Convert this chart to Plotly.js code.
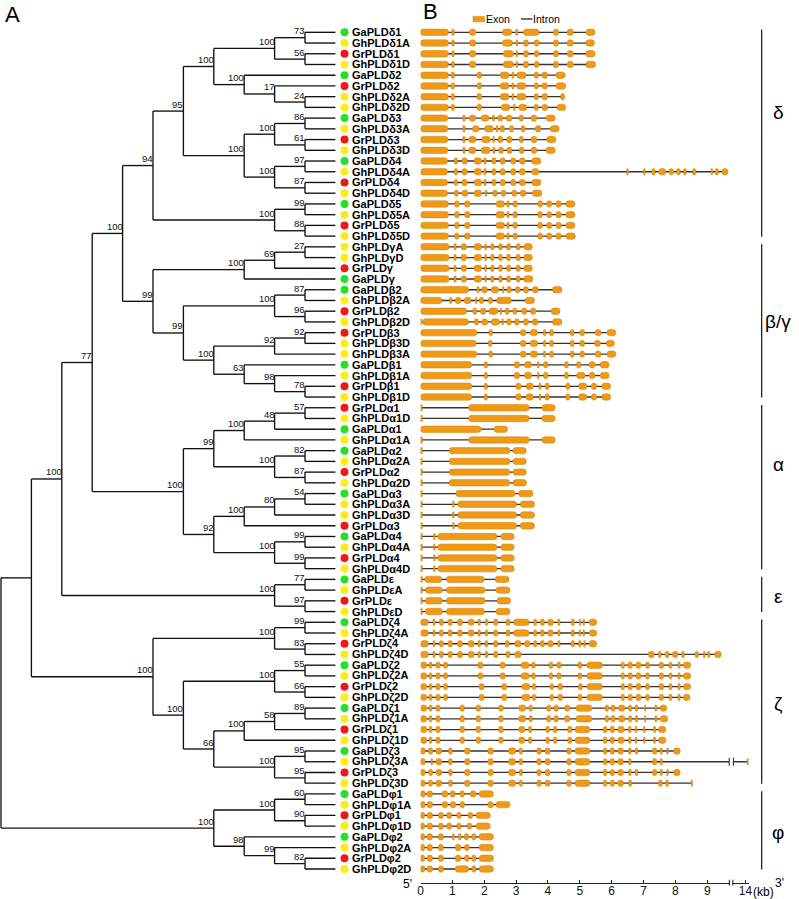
<!DOCTYPE html>
<html><head><meta charset="utf-8">
<script src="https://cdn.plot.ly/plotly-3.0.1.min.js"></script>
<style>html,body{margin:0;padding:0;background:#fff}#chart{width:799px;height:899px}</style>
</head><body><div id="chart"></div>
<script>
// ================= DATA =================
// Phylogeny (Newick pieces, bootstrap values as node labels)
const cladeDelta12 = "(((GaPLDδ1,GhPLDδ1A)73,(GrPLDδ1,GhPLDδ1D)56)100,(GaPLDδ2,(GrPLDδ2,(GhPLDδ2A,GhPLDδ2D)24)17)100)100";
const cladeDelta34 = "(((GaPLDδ3,GhPLDδ3A)86,(GrPLDδ3,GhPLDδ3D)61)100,((GaPLDδ4,GhPLDδ4A)97,(GrPLDδ4,GhPLDδ4D)87)100)100";
const cladeDelta5 = "((GaPLDδ5,GhPLDδ5A)99,(GrPLDδ5,GhPLDδ5D)88)100";
const cladeGamma = "(((GhPLDγA,GhPLDγD)27,GrPLDγ)69,GaPLDγ)100";
const cladeBeta = "(((GaPLDβ2,GhPLDβ2A)87,(GrPLDβ2,GhPLDβ2D)96)100,(((GrPLDβ3,GhPLDβ3D)92,GhPLDβ3A)92,(GaPLDβ1,(GhPLDβ1A,(GrPLDβ1,GhPLDβ1D)78)98)63)100)99";
const cladeAlpha = "(((((GrPLDα1,GhPLDα1D)57,GaPLDα1)48,GhPLDα1A)100,((GaPLDα2,GhPLDα2A)82,(GrPLDα2,GhPLDα2D)87)100)99,((((GaPLDα3,GhPLDα3A)54,GhPLDα3D)80,GrPLDα3)100,((GaPLDα4,GhPLDα4A)99,(GrPLDα4,GhPLDα4D)99)100)92)100";
const cladeEpsilon = "((GaPLDε,GhPLDεA)77,(GrPLDε,GhPLDεD)97)100";
const cladeZeta = "(((GaPLDζ4,GhPLDζ4A)99,(GrPLDζ4,GhPLDζ4D)83)100,(((GaPLDζ2,GhPLDζ2A)55,(GrPLDζ2,GhPLDζ2D)66)100,((((GaPLDζ1,GhPLDζ1A)89,GrPLDζ1)58,GhPLDζ1D)100,((GaPLDζ3,GhPLDζ3A)95,(GrPLDζ3,GhPLDζ3D)95)100)66)100)100";
const cladePhi = "(((GaPLDφ1,GhPLDφ1A)60,(GrPLDφ1,GhPLDφ1D)90)100,(GaPLDφ2,(GhPLDφ2A,(GrPLDφ2,GhPLDφ2D)82)99)98)100";
const treeNewick = "(((((((" + cladeDelta12 + "," + cladeDelta34 + ")95," + cladeDelta5 + ")94,(" + cladeGamma + "," + cladeBeta + ")99)100," + cladeAlpha + ")77," + cladeEpsilon + ")100," + cladeZeta + ")," + cladePhi + ");";

// Exon coordinates (kb): [start,end, start,end, ...] in tree leaf order
const exonsDelta = [
 [0,0.88, 0.98,1.06, 1.53,1.74, 2.57,2.87, 2.99,3.05, 3.23,3.72, 4.17,4.33, 4.6,4.8, 5.19,5.48],
 [0,0.88, 0.98,1.06, 1.53,1.74, 2.57,2.89, 3.0,3.05, 3.23,3.39, 3.57,3.72, 4.17,4.33, 4.6,4.8, 5.19,5.46],
 [0,0.88, 0.98,1.06, 1.53,1.74, 2.6,2.92, 3.0,3.05, 3.23,3.39, 3.57,3.72, 4.17,4.33, 4.6,4.8, 5.19,5.48],
 [0,0.88, 0.98,1.06, 1.53,1.74, 2.6,2.92, 3.0,3.05, 3.23,3.39, 3.57,3.72, 4.17,4.33, 4.6,4.8, 5.19,5.5],
 [0,0.88, 0.96,1.07, 1.77,1.92, 2.5,2.78, 2.87,2.93, 3.02,3.31, 3.57,3.7, 3.81,3.99, 4.25,4.54],
 [0,0.88, 0.96,1.07, 1.77,1.92, 2.5,2.78, 2.87,2.93, 3.02,3.31, 3.57,3.7, 3.81,3.99, 4.25,4.56],
 [0,0.88, 0.96,1.07, 1.77,1.92, 2.5,2.78, 2.87,2.93, 3.02,3.31, 3.57,3.7, 3.81,3.99, 4.4,4.52],
 [0,0.88, 0.96,1.07, 1.77,1.92, 2.53,2.81, 2.92,2.97, 3.08,3.34, 3.57,3.7, 3.81,3.99, 4.28,4.56],
 [0,0.86, 1.33,1.4, 1.53,1.74, 1.9,2.15, 2.26,2.32, 2.43,2.58, 2.69,2.87, 3.1,3.23, 3.47,3.65, 3.94,4.23],
 [0,0.86, 1.33,1.4, 1.63,1.84, 2.01,2.29, 2.37,2.43, 2.5,2.64, 2.79,2.93, 3.16,3.28, 3.6,3.78, 4.07,4.35],
 [0,0.86, 1.33,1.4, 1.51,1.74, 1.92,2.19, 2.27,2.32, 2.43,2.58, 2.71,2.87, 3.1,3.23, 3.47,3.65, 3.96,4.25],
 [0,0.86, 1.33,1.4, 1.51,1.74, 1.9,2.19, 2.27,2.34, 2.45,2.6, 2.71,2.87, 3.1,3.25, 3.47,3.65, 3.94,4.23],
 [0,0.85, 1.06,1.16, 1.3,1.47, 1.68,1.92, 1.99,2.06, 2.24,2.37, 2.5,2.66, 2.83,2.99, 3.1,3.29, 3.49,3.78],
 [0,0.85, 1.06,1.16, 1.3,1.47, 1.68,1.92, 1.99,2.06, 2.24,2.37, 2.5,2.66, 2.83,2.99, 3.1,3.29, 3.49,3.72, 6.47,6.52, 7.0,7.05, 7.26,7.36, 7.47,7.7, 7.8,7.94, 8.04,8.15, 8.26,8.34, 8.54,8.64, 9.12,9.17, 9.25,9.35, 9.46,9.65],
 [0,0.85, 1.06,1.16, 1.3,1.47, 1.68,1.92, 1.99,2.06, 2.24,2.37, 2.5,2.66, 2.83,2.99, 3.1,3.29, 3.49,3.78],
 [0,0.85, 1.06,1.19, 1.3,1.49, 1.68,1.92, 2.03,2.08, 2.27,2.41, 2.53,2.68, 2.87,3.02, 3.13,3.31, 3.51,3.81],
 [0,0.88, 1.07,1.21, 1.38,1.56, 2.37,2.64, 2.71,2.78, 2.9,3.04, 3.68,3.83, 3.96,4.12, 4.25,4.42, 4.56,4.85],
 [0,0.88, 1.07,1.21, 1.38,1.56, 2.37,2.64, 2.71,2.78, 2.9,3.04, 3.68,3.83, 3.96,4.12, 4.25,4.42, 4.56,4.85],
 [0,0.88, 1.07,1.21, 1.38,1.56, 2.37,2.64, 2.71,2.78, 2.9,3.04, 3.68,3.83, 3.96,4.12, 4.25,4.42, 4.56,4.85],
 [0,0.88, 1.07,1.21, 1.38,1.56, 2.37,2.64, 2.71,2.78, 2.9,3.04, 3.68,3.83, 3.96,4.12, 4.25,4.42, 4.56,4.86]
];
const exonsGammaBeta = [
 [0,0.9, 1.05,1.12, 1.27,1.45, 1.68,1.92, 2.02,2.07, 2.2,2.31, 2.45,2.57, 2.7,2.83, 3.0,3.13, 3.24,3.51],
 [0,0.9, 1.05,1.12, 1.27,1.45, 1.68,1.92, 2.02,2.07, 2.2,2.31, 2.45,2.57, 2.7,2.83, 3.0,3.13, 3.24,3.51],
 [0,0.9, 1.05,1.12, 1.27,1.45, 1.68,1.92, 2.02,2.07, 2.2,2.31, 2.45,2.57, 2.7,2.83, 3.0,3.13, 3.24,3.51],
 [0,0.9, 1.05,1.12, 1.27,1.45, 1.68,1.92, 2.02,2.07, 2.2,2.31, 2.45,2.57, 2.7,2.83, 3.0,3.13, 3.24,3.53],
 [0,1.51, 1.77,1.84, 1.92,2.1, 2.22,2.45, 2.57,2.62, 2.71,2.85, 2.97,3.12, 3.23,3.39, 3.51,3.7, 4.14,4.44],
 [0,0.67, 0.91,0.98, 1.09,1.27, 1.37,1.59, 1.72,1.77, 1.85,1.98, 2.13,2.26, 2.39,2.85, 3.28,3.58],
 [0,1.45, 1.64,1.77, 1.88,2.05, 2.15,2.43, 2.5,2.55, 2.66,2.78, 2.9,3.02, 3.18,3.34, 3.45,3.62, 4.1,4.38],
 [0,0.04, 0.07,1.51, 1.69,1.82, 1.92,2.11, 2.22,2.48, 2.55,2.6, 2.71,2.85, 2.95,3.1, 3.23,3.39, 3.51,3.68, 4.14,4.44],
 [0,1.77, 2.15,2.26, 3.13,3.32, 3.44,3.68, 3.86,3.93, 4.05,4.18, 4.7,4.82, 5.0,5.15, 5.48,5.67, 5.85,6.13],
 [0,1.75, 2.13,2.24, 3.13,3.31, 3.44,3.68, 3.86,3.93, 4.05,4.17, 4.7,4.82, 5.0,5.15, 5.46,5.65, 5.83,6.09],
 [0,1.77, 2.15,2.26, 3.13,3.32, 3.44,3.68, 3.86,3.93, 4.05,4.18, 4.7,4.82, 5.0,5.15, 5.48,5.67, 5.85,6.13],
 [0,1.61, 2.0,2.1, 2.94,3.11, 3.26,3.49, 3.67,3.72, 3.86,4.0, 4.52,4.64, 4.9,5.03, 5.29,5.48, 5.64,5.92],
 [0,1.61, 2.0,2.1, 2.94,3.11, 3.26,3.49, 3.67,3.72, 3.86,4.0, 4.52,4.64, 4.9,5.17, 5.29,5.48, 5.64,5.92],
 [0,1.61, 2.0,2.1, 2.99,3.16, 3.31,3.54, 3.72,3.78, 3.91,4.04, 4.56,4.69, 4.96,5.22, 5.36,5.53, 5.69,5.97],
 [0,1.61, 2.0,2.1, 2.99,3.16, 3.31,3.54, 3.72,3.78, 3.91,4.04, 4.56,4.69, 4.96,5.22, 5.36,5.53, 5.69,5.97]
];
const exonsAlpha = [
 [0,0.06, 1.51,3.41, 3.81,4.23],
 [0,0.06, 1.51,3.41, 3.81,4.23],
 [0,1.9, 2.31,2.73],
 [0,0.06, 1.51,3.41, 3.81,4.23],
 [0,0.06, 0.9,2.81, 2.9,3.32],
 [0,0.06, 0.9,2.81, 2.9,3.32],
 [0,0.06, 0.9,2.81, 2.9,3.32],
 [0,0.06, 0.9,2.81, 2.9,3.33],
 [0,0.06, 1.11,2.97, 3.08,3.53],
 [0,0.06, 1.0,1.06, 1.17,3.02, 3.13,3.58],
 [0,0.06, 1.0,1.06, 1.17,3.02, 3.13,3.58],
 [0,0.06, 1.0,1.06, 1.17,3.02, 3.13,3.58],
 [0,0.06, 0.41,0.46, 0.54,2.4, 2.52,2.94],
 [0,0.06, 0.41,0.46, 0.54,2.4, 2.52,2.94],
 [0,0.06, 0.41,0.46, 0.54,2.4, 2.52,2.94],
 [0,0.06, 0.41,0.46, 0.54,2.4, 2.52,2.94]
];
const exonsEpsilon = [
 [0,0.06, 0.13,0.67, 0.81,2.0, 2.34,2.78],
 [0,0.06, 0.15,0.69, 0.81,2.03, 2.37,2.81],
 [0,0.06, 0.15,0.69, 0.81,2.03, 2.4,2.83],
 [0,0.06, 0.15,0.69, 0.81,2.01, 2.37,2.81]
];
const exonsZeta = [
 [0,0.25, 0.39,0.46, 0.59,0.72, 0.86,1.0, 1.16,1.32, 1.49,1.69, 1.8,1.88, 2.03,2.11, 2.29,2.43, 2.68,2.81, 2.92,3.41, 3.55,3.65, 3.76,3.89, 3.99,4.17, 4.31,4.38, 4.73,4.83, 4.98,5.03, 5.1,5.15, 5.29,5.53],
 [0,0.25, 0.39,0.46, 0.59,0.72, 0.86,1.0, 1.16,1.32, 1.49,1.69, 1.8,1.88, 2.03,2.11, 2.29,2.43, 2.68,2.81, 2.92,3.41, 3.55,3.65, 3.76,3.89, 3.99,4.17, 4.31,4.38, 4.73,4.83, 4.98,5.03, 5.1,5.15, 5.29,5.53],
 [0,0.25, 0.39,0.46, 0.59,0.72, 0.86,1.0, 1.16,1.32, 1.49,1.69, 1.8,1.88, 2.03,2.11, 2.29,2.43, 2.66,2.78, 2.95,3.16, 3.26,3.44, 3.55,3.65, 3.76,3.89, 3.99,4.17, 4.31,4.38, 4.73,4.83, 4.96,5.04, 5.12,5.17, 5.29,5.53],
 [0,0.25, 0.39,0.46, 0.59,0.72, 0.86,1.0, 1.16,1.32, 1.49,1.69, 1.8,1.88, 2.03,2.11, 2.29,2.43, 2.68,2.81, 2.95,3.16, 7.15,7.34, 7.47,7.55, 7.68,7.8, 7.91,8.08, 8.2,8.28, 8.62,8.72, 8.88,8.93, 9.02,9.08, 9.23,9.44],
 [0,0.2, 0.27,0.36, 0.48,0.62, 0.72,0.85, 1.8,1.96, 2.5,2.66, 3.16,3.41, 3.49,3.6, 4.04,4.15, 4.28,4.41, 4.94,5.06, 5.22,5.71, 6.3,6.4, 6.51,6.65, 6.76,6.92, 7.07,7.18, 7.49,7.63, 7.8,7.89, 8.08,8.15, 8.25,8.48],
 [0,0.2, 0.27,0.36, 0.48,0.62, 0.72,0.85, 1.8,1.96, 2.5,2.66, 3.16,3.41, 3.49,3.6, 4.04,4.15, 4.28,4.41, 4.94,5.06, 5.22,5.71, 6.3,6.4, 6.51,6.65, 6.76,6.92, 7.07,7.18, 7.49,7.63, 7.8,7.89, 8.08,8.15, 8.25,8.48],
 [0,0.2, 0.27,0.36, 0.48,0.62, 0.72,0.85, 1.84,2.0, 2.55,2.71, 3.18,3.44, 3.51,3.62, 4.07,4.17, 4.31,4.46, 4.96,5.08, 5.22,5.71, 6.3,6.4, 6.51,6.65, 6.76,6.92, 7.07,7.18, 7.49,7.63, 7.8,7.89, 8.08,8.15, 8.25,8.48],
 [0,0.2, 0.27,0.36, 0.48,0.62, 0.72,0.85, 1.84,2.0, 2.55,2.71, 3.18,3.44, 3.51,3.62, 4.07,4.17, 4.31,4.46, 4.94,5.06, 5.22,5.71, 6.3,6.4, 6.51,6.65, 6.76,6.92, 7.07,7.18, 7.49,7.63, 7.8,7.89, 8.08,8.15, 8.25,8.46],
 [0,0.2, 0.27,0.36, 0.48,0.62, 1.24,1.38, 1.74,1.89, 2.45,2.6, 3.08,3.31, 3.41,3.51, 3.96,4.09, 4.19,4.33, 4.52,4.69, 4.88,5.38, 5.8,5.9, 5.98,6.11, 6.21,6.42, 6.53,6.63, 6.74,6.82, 7.03,7.07, 7.36,7.42, 7.52,7.73],
 [0,0.2, 0.27,0.36, 0.48,0.62, 1.24,1.38, 1.74,1.89, 2.45,2.6, 3.08,3.31, 3.41,3.51, 3.96,4.09, 4.19,4.33, 4.52,4.69, 4.88,5.38, 5.8,5.9, 5.98,6.11, 6.21,6.42, 6.53,6.63, 6.74,6.82, 7.03,7.07, 7.36,7.42, 7.52,7.76],
 [0,0.2, 0.27,0.36, 0.48,0.62, 1.24,1.38, 1.74,1.89, 2.45,2.6, 3.08,3.28, 3.39,3.49, 3.93,4.05, 4.17,4.28, 4.62,4.75, 4.85,5.32, 5.74,5.85, 5.95,6.09, 6.19,6.4, 6.53,6.61, 6.74,6.79, 7.0,7.05, 7.31,7.38, 7.47,7.7],
 [0,0.2, 0.27,0.36, 0.48,0.62, 1.24,1.38, 1.74,1.89, 2.45,2.6, 3.08,3.28, 3.39,3.49, 3.93,4.05, 4.17,4.28, 4.62,4.75, 4.85,5.32, 5.74,5.85, 5.95,6.09, 6.19,6.4, 6.53,6.61, 6.74,6.79, 7.0,7.05, 7.31,7.38, 7.47,7.7],
 [0,0.15, 0.25,0.38, 0.48,0.67, 0.88,1.0, 1.38,1.56, 2.11,2.29, 2.76,2.99, 3.1,3.2, 3.65,3.79, 3.91,4.07, 4.59,4.73, 4.85,5.32, 5.74,5.85, 5.95,6.09, 6.19,6.37, 6.53,6.61, 6.74,6.82, 7.28,7.42, 7.52,7.59, 7.73,7.78, 7.94,8.15],
 [0,0.15, 0.33,0.38, 0.48,0.67, 0.88,1.0, 1.38,1.56, 2.11,2.29, 2.76,2.99, 3.1,3.2, 3.65,3.79, 3.91,4.07, 4.59,4.73, 4.85,5.32, 5.74,5.85, 5.95,6.09, 6.19,6.37, 6.53,6.61, 7.28,7.42, 7.52,7.59, 14.06,14.1],
 [0,0.15, 0.25,0.38, 0.48,0.67, 0.88,1.0, 1.38,1.56, 2.11,2.29, 2.76,2.99, 3.1,3.2, 3.65,3.79, 3.91,4.07, 4.59,4.73, 4.85,5.32, 5.74,5.85, 5.95,6.09, 6.19,6.37, 6.53,6.61, 6.74,6.82, 7.28,7.42, 7.52,7.59, 7.73,7.78, 7.94,8.15],
 [0,0.15, 0.25,0.38, 0.48,0.67, 0.88,1.0, 1.38,1.56, 2.11,2.29, 2.76,2.99, 3.1,3.2, 3.65,3.79, 3.91,4.07, 4.59,4.73, 4.85,5.32, 5.74,5.85, 5.95,6.09, 6.19,6.37, 6.53,6.63, 7.47,7.59, 7.7,7.78, 8.49,8.54]
];
const exonsPhi = [
 [0,0.15, 0.2,0.38, 0.67,0.86, 0.93,1.09, 1.24,1.38, 1.56,1.74, 1.84,2.29],
 [0,0.15, 0.2,0.38, 0.67,0.86, 0.93,1.11, 1.24,1.38, 2.11,2.29, 2.37,2.81],
 [0,0.13, 0.2,0.38, 0.56,0.72, 0.82,0.98, 1.14,1.27, 1.49,1.64, 1.74,2.19],
 [0,0.13, 0.2,0.38, 0.56,0.72, 0.82,0.98, 1.14,1.27, 1.46,1.61, 1.74,2.19],
 [0,0.13, 0.2,0.38, 0.56,0.72, 1.0,1.06, 1.19,1.27, 1.38,1.51, 1.61,1.74, 1.84,2.29],
 [0,0.13, 0.2,0.38, 0.56,0.72, 1.09,1.27, 1.38,1.53, 1.84,2.29],
 [0,0.13, 0.2,0.38, 0.56,0.72, 1.09,1.27, 1.38,1.53, 1.61,1.74, 1.84,2.29],
 [0,0.13, 0.2,0.38, 0.56,0.72, 1.09,1.51, 1.61,1.74, 1.84,2.29]
];

// Scale tick labels (kb)
const kbTicks = [0,1,2,3,4,5,6,7,8,9,14];
const kbTickText = ['0','1','2','3','4','5','6','7','8','9','14'];

// Subfamily groups
const groupNames = ['δ','β/γ','α','ε','ζ','φ'];
const groupFirstGene = ['GaPLDδ1','GhPLDγA','GrPLDα1','GaPLDε','GaPLDζ4','GaPLDφ1'];
const groupLastGene = ['GhPLDδ5D','GhPLDβ1D','GhPLDα4D','GhPLDεD','GhPLDζ3D','GhPLDφ2D'];

// ================= LAYOUT CONSTANTS =================
const W = 799, H = 899;
const FONT = 'Liberation Sans, Arial, sans-serif';
const ROW0_PX = 32.3, ROW_STEP = 10.727, AXIS_PX = 882.7;
const TREE_X0 = 1, TREE_STEP = 30.4;
const GENE_X0 = 420.5, GENE_END_PX = 749.3, KB_PX = 31.86;
const BREAK_FROM = 9.69, BREAK_TO = 13.58, AT14 = 10.2, AFTER_SCALE = 0.9;
const groupLabelRow = [7.5, 27, 40.3, 52.6, 62.6, 74.6];
const speciesColor = {Ga:'#25e125', Gh:'#fded17', Gr:'#ef1717'};
const EXON = '#EF9A17', EXON_LINE = '#D7830B';

const kbToAxis = kb => kb <= BREAK_FROM ? kb : AT14 + (kb - 14) * AFTER_SCALE;
const px = p => p / W, py = p => 1 - p / H;

// ================= TREE =================
function parseNewick(s){
  let i = 0;
  function node(){
    const n = {children: []};
    if (s[i] === '('){
      i++;
      n.children.push(node());
      while (s[i] === ','){ i++; n.children.push(node()); }
      i++;
    }
    let t = '';
    while (i < s.length && !',();'.includes(s[i])) t += s[i++];
    if (n.children.length) n.support = t; else n.name = t;
    return n;
  }
  return node();
}
const root = parseNewick(treeNewick);
const leaves = [];
(function walk(n){
  if (!n.children.length){ n.row = leaves.length; leaves.push(n.name); n.h = 0; return; }
  n.children.forEach(walk);
  n.h = 1 + Math.max(...n.children.map(c => c.h));
  n.row = (n.children[0].row + n.children[n.children.length-1].row) / 2;
})(root);
const maxH = root.h;
const lev = n => maxH - n.h;

const treeX = [], treeY = [], annotations = [];
const bsFont = {family: FONT, size: 9.5, color: '#111'};
(function draw(n){
  if (!n.children.length) return;
  const L = lev(n);
  const first = n.children[0], last = n.children[n.children.length-1];
  treeX.push(L, L, null); treeY.push(first.row, last.row, null);
  n.children.forEach(c => { treeX.push(L, lev(c), null); treeY.push(c.row, c.row, null); draw(c); });
  if (n.support) annotations.push({xref:'x', yref:'y', x:L, y:n.row, text:n.support, showarrow:false,
    xanchor:'right', yanchor:'bottom', borderpad:0, borderwidth:0, xshift:0, yshift:1.5, font:bsFont});
})(root);

// leaf labels & species dots
const dotX = [], dotY = [], dotC = [];
leaves.forEach((name, r) => {
  dotX.push(maxH + 0.3); dotY.push(r); dotC.push(speciesColor[name.slice(0,2)]);
  annotations.push({xref:'x', yref:'y', x:maxH + 0.545, y:r, text:name, showarrow:false,
    xanchor:'left', yanchor:'middle', borderpad:0, borderwidth:0,
    font:{family:FONT, size:11, color:'#000', weight:'bold'}});
});

// ================= GENE STRUCTURES =================
const allExons = [].concat(exonsDelta, exonsGammaBeta, exonsAlpha, exonsEpsilon, exonsZeta, exonsPhi);
const barY = [], barBase = [], barLen = [];
const intronX = [], intronY = [], brkX = [], brkY = [];
allExons.forEach((ex, r) => {
  for (let k = 0; k < ex.length; k += 2){
    const a0 = kbToAxis(ex[k]), a1 = kbToAxis(ex[k+1]);
    barY.push(r); barBase.push(a0); barLen.push(a1 - a0);
    if (k + 2 < ex.length){
      const s = ex[k+1], e = ex[k+2];
      if (s < BREAK_FROM && e > BREAK_FROM){
        intronX.push(kbToAxis(s), kbToAxis(BREAK_FROM), null, kbToAxis(BREAK_TO), kbToAxis(e), null);
        intronY.push(r, r, null, r, r, null);
        [BREAK_FROM, BREAK_TO].forEach(b => { brkX.push(kbToAxis(b), kbToAxis(b), null); brkY.push(r-0.38, r+0.38, null); });
      } else {
        intronX.push(kbToAxis(s), kbToAxis(e), null); intronY.push(r, r, null);
      }
    }
  }
});

// ================= TRACES =================
const traces = [
  {type:'bar', orientation:'h', xaxis:'x2', yaxis:'y', y:barY, base:barBase, x:barLen, width:0.6,
   marker:{color:EXON, line:{color:EXON_LINE, width:0.5}, cornerradius:3}, hoverinfo:'skip'},
  {type:'scatter', mode:'lines', xaxis:'x2', yaxis:'y', x:intronX, y:intronY,
   line:{color:'#333', width:1.3}, hoverinfo:'skip'},
  {type:'scatter', mode:'lines', xaxis:'x2', yaxis:'y', x:brkX, y:brkY,
   line:{color:'#333', width:1.1}, hoverinfo:'skip'},
  {type:'scatter', mode:'lines', xaxis:'x', yaxis:'y', x:treeX, y:treeY,
   line:{color:'#111', width:1.35}, hoverinfo:'skip'},
  {type:'scatter', mode:'markers', xaxis:'x', yaxis:'y', x:dotX, y:dotY, cliponaxis:false,
   marker:{color:dotC, size:8, line:{width:0}}, hoverinfo:'skip'}
];

// ================= SHAPES / EXTRA TEXT =================
const shapes = [];
groupNames.forEach((g, i) => {
  const r0 = leaves.indexOf(groupFirstGene[i]), r1 = leaves.indexOf(groupLastGene[i]);
  shapes.push({type:'line', xref:'paper', yref:'y', x0:px(761.7), x1:px(761.7), y0:r0-0.25, y1:r1+0.05,
    line:{color:'#111', width:1.2}});
  annotations.push({xref:'paper', yref:'y', x:px(778), y:groupLabelRow[i], text:g, showarrow:false,
    xanchor:'center', yanchor:'middle', font:{family:FONT, size:19, color:'#000'}});
});
// axis break on the scale bar
shapes.push({type:'rect', xref:'paper', yref:'paper', x0:px(729.6), x1:px(732.6), y0:py(885), y1:py(880.5),
  fillcolor:'#fff', line:{width:0}, layer:'above'});
[729.4, 732.8].forEach(p => shapes.push({type:'line', xref:'paper', yref:'paper', x0:px(p), x1:px(p),
  y0:py(879.8), y1:py(885.6), line:{color:'#222', width:1.1}, layer:'above'}));
// legend
shapes.push({type:'rect', xref:'paper', yref:'paper', x0:px(473), x1:px(484.5), y0:py(21.8), y1:py(16.4),
  fillcolor:EXON, line:{color:EXON_LINE, width:0.5}});
shapes.push({type:'line', xref:'paper', yref:'paper', x0:px(521), x1:px(532.5), y0:py(19), y1:py(19),
  line:{color:'#222', width:1.3}});
const txt = (x, y, t, size, anchor, extra) => Object.assign({xref:'paper', yref:'paper', x:px(x), y:py(y), text:t,
  showarrow:false, xanchor:anchor||'center', yanchor:'middle', borderpad:0, borderwidth:0,
  font:{family:FONT, size:size, color:'#000'}}, extra||{});
annotations.push(txt(12.5, 14, 'A', 22));
annotations.push(txt(430, 11.5, 'B', 22));
annotations.push(txt(486, 19, 'Exon', 10.5, 'left'));
annotations.push(txt(533, 19, 'Intron', 10.5, 'left'));
annotations.push(txt(408, 884, "5'", 12));
annotations.push(txt(752.5, 892, '(kb)', 12, 'left'));
annotations.push(txt(779, 883, "3'", 12));

// ================= LAYOUT =================
const yTop = -ROW0_PX / ROW_STEP, yBot = (AXIS_PX - ROW0_PX) / ROW_STEP;
const layout = {
  width: W, height: H, margin:{l:0, r:0, t:0, b:0, pad:0},
  paper_bgcolor:'#fff', plot_bgcolor:'rgba(0,0,0,0)', showlegend:false, barmode:'overlay',
  font:{family:FONT},
  xaxis:{domain:[0, px(400)], range:[-TREE_X0/TREE_STEP, (400 - TREE_X0)/TREE_STEP], visible:false, fixedrange:true},
  xaxis2:{domain:[px(GENE_X0), px(GENE_END_PX)], range:[0, (GENE_END_PX - GENE_X0)/KB_PX], anchor:'y',
    showgrid:false, zeroline:false, showline:true, linecolor:'#222', linewidth:1.2,
    ticks:'inside', ticklen:3, tickwidth:1, tickcolor:'#222', ticklabelstandoff:-3,
    tickmode:'array', tickvals:kbTicks.map(kbToAxis), ticktext:kbTickText,
    tickfont:{family:FONT, size:12, color:'#111'}, fixedrange:true},
  yaxis:{domain:[1 - AXIS_PX/H, 1], range:[yBot, yTop], visible:false, fixedrange:true},
  shapes: shapes, annotations: annotations
};

Plotly.newPlot('chart', traces, layout, {staticPlot:true, displayModeBar:false});
</script>
</body></html>
